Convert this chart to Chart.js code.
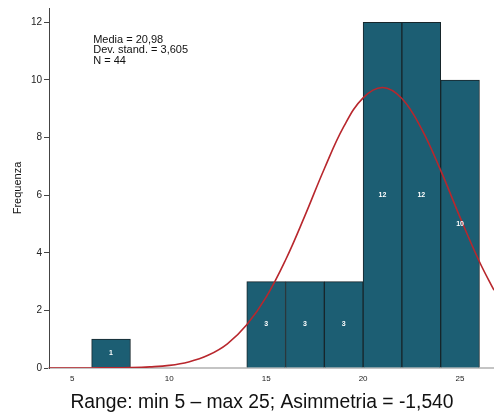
<!DOCTYPE html>
<html>
<head>
<meta charset="utf-8">
<script src="https://cdn.jsdelivr.net/npm/chart.js@4.4.1/dist/chart.umd.min.js"></script>
<style>
  html, body { margin: 0; padding: 0; background: #fff; }
  #wrap { width: 494px; height: 416px; }
</style>
</head>
<body>
<div id="wrap"><canvas id="histChart"></canvas></div>
<script>
// histogram bins (centre of each 2-unit bin) and counts
const binCenters = [7, 15, 17, 19, 21, 23, 25];
const binCounts = [1, 3, 3, 3, 12, 12, 10];

// normal curve
const curveX = [3.8, 5, 6, 7, 8, 9, 10, 11, 12, 13, 14, 15, 16, 17, 18, 19, 20, 21, 22, 23, 24, 25, 26, 26.75];
const curveY = [0, 0, 0.002, 0.005, 0.015, 0.04, 0.09, 0.21, 0.44, 0.84, 1.5, 2.46, 3.75, 5.29, 6.92, 8.38, 9.38, 9.74, 9.36, 8.32, 6.86, 5.23, 3.69, 2.7];

const xTicks = [5, 10, 15, 20, 25];
const yTicks = [0, 2, 4, 6, 8, 10, 12];

const statsLines = ["Media = 20,98", "Dev. stand. = 3,605", "N = 44"];
const titleText = "Range: min 5 \u2013 max 25; Asimmetria = -1,540";

const FONT = "'Liberation Sans', Arial, sans-serif";

const barLabels = {
  id: "barLabels",
  afterDatasetsDraw(chart) {
    const ctx = chart.ctx;
    const meta = chart.getDatasetMeta(0);
    ctx.save();
    ctx.fillStyle = "#ffffff";
    ctx.font = "bold 7px " + FONT;
    ctx.textAlign = "center";
    ctx.textBaseline = "middle";
    meta.data.forEach((bar, i) => {
      ctx.fillText(String(binCounts[i]), bar.x, (bar.y + bar.base) / 2);
    });
    ctx.restore();
  }
};

const statsBox = {
  id: "statsBox",
  afterDraw(chart) {
    const ctx = chart.ctx;
    const x = chart.scales.x.getPixelForValue(6.08);
    const y = chart.scales.y.getPixelForValue(11.4);
    ctx.save();
    ctx.fillStyle = "#111";
    ctx.font = "11px " + FONT;
    ctx.textBaseline = "middle";
    statsLines.forEach((line, i) => {
      ctx.fillText(line, x, y + i * 10.5);
    });
    ctx.restore();
  }
};

// bottom caption, a little right of the canvas centre like the original
const caption = {
  id: "caption",
  afterDraw(chart) {
    const ctx = chart.ctx;
    ctx.save();
    ctx.fillStyle = "#111";
    ctx.font = "19.3px " + FONT;
    ctx.textAlign = "center";
    ctx.textBaseline = "alphabetic";
    ctx.fillText(titleText, chart.width / 2 + 15, chart.height - 8);
    ctx.restore();
  }
};

new Chart(document.getElementById("histChart"), {
  data: {
    datasets: [
      {
        type: "bar",
        data: binCenters.map((c, i) => ({ x: c, y: binCounts[i] })),
        backgroundColor: "#1c5e73",
        borderColor: "#17262b",
        borderWidth: 1,
        barPercentage: 1,
        categoryPercentage: 1,
        grouped: false,
        order: 2
      },
      {
        type: "line",
        data: curveX.map((x, i) => ({ x: x, y: curveY[i] })),
        borderColor: "#b8272d",
        borderWidth: 1.6,
        pointRadius: 0,
        tension: 0.4,
        fill: false,
        order: 1
      }
    ]
  },
  options: {
    responsive: true,
    maintainAspectRatio: false,
    animation: false,
    layout: { padding: { top: 0, right: 0, bottom: 26, left: 0 } },
    plugins: {
      legend: { display: false },
      tooltip: { enabled: false },
      title: { display: false }
    },
    scales: {
      x: {
        type: "linear",
        offset: false,
        min: 3.8,
        max: 26.75,
        afterBuildTicks(scale) {
          scale.ticks = xTicks.map(v => ({ value: v }));
        },
        afterFit(scale) {
          scale.height = 22;
        },
        grid: { display: false, drawTicks: false, offset: false },
        border: { color: "#c4c4c4", width: 2 },
        ticks: {
          color: "#222",
          padding: 6,
          font: { family: FONT, size: 8 }
        }
      },
      y: {
        min: 0,
        max: 12.5,
        afterBuildTicks(scale) {
          scale.ticks = yTicks.map(v => ({ value: v }));
        },
        afterFit(scale) {
          scale.width = 49;
        },
        grid: {
          drawOnChartArea: false,
          drawTicks: true,
          tickLength: 5,
          color: "#444"
        },
        border: { color: "#444", width: 1 },
        ticks: {
          color: "#222",
          padding: 2,
          font: { family: FONT, size: 10 }
        },
        title: {
          display: true,
          text: "Frequenza",
          color: "#111",
          font: { family: FONT, size: 11 },
          padding: { top: 11, bottom: 0 }
        }
      }
    }
  },
  plugins: [barLabels, statsBox, caption]
});
</script>
</body>
</html>
